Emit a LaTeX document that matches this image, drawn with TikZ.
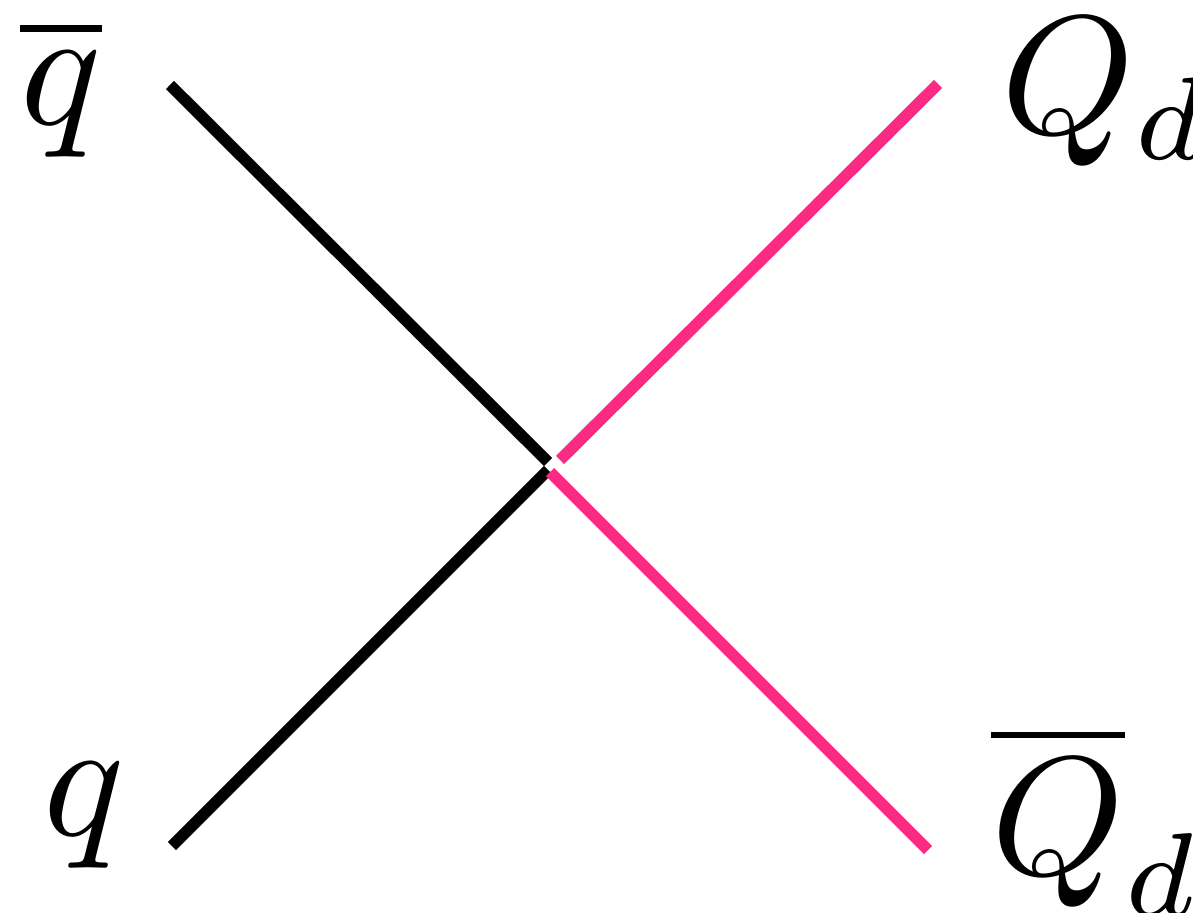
\documentclass[tikz,border=0pt]{standalone}
\usepackage{amsmath}
\usepackage{tikz}
\usetikzlibrary{positioning,calc}
\usepackage{xcolor}
\definecolor{quarkpink}{RGB}{251,43,131}

\begin{document}
\begin{tikzpicture}[
    leg/.style={line width=3.3pt, black},
    heavy/.style={leg, quarkpink},
    lbl/.style={anchor=base west, inner sep=0pt, font=\normalsize, scale=4.8}
]
    \useasboundingbox (0,0) rectangle (11.93,9.12);

    % external legs
    \coordinate (qbarend) at (1.70,8.27);
    \coordinate (qend) at (1.72,0.66);
    \coordinate (Qend) at (9.38,8.28);
    \coordinate (Qbarend) at (9.28,0.62);

    % ends near the vertex
    \coordinate (qbarin) at (5.48,4.50);
    \coordinate (qin) at (5.48,4.42);
    \coordinate (Qin) at (5.60,4.52);
    \coordinate (Qbarin) at (5.50,4.40);

    \draw[leg] (qbarend) -- (qbarin);
    \draw[leg] (qend) -- (qin);
    \draw[heavy] (Qend) -- (Qin);
    \draw[heavy] (Qbarend) -- (Qbarin);

    % Labels
    \node[lbl] (qbar) at (0.17,7.87) {$\overline{q}$};
    \node[lbl] (q) at (0.40,0.77) {$q$};
    \node[lbl] (Qd) at (9.98,7.78) {$Q_d$};
    \node[lbl] (Qbard) at (9.88,0.38) {$\overline{Q}_d$};
\end{tikzpicture}
\end{document}
